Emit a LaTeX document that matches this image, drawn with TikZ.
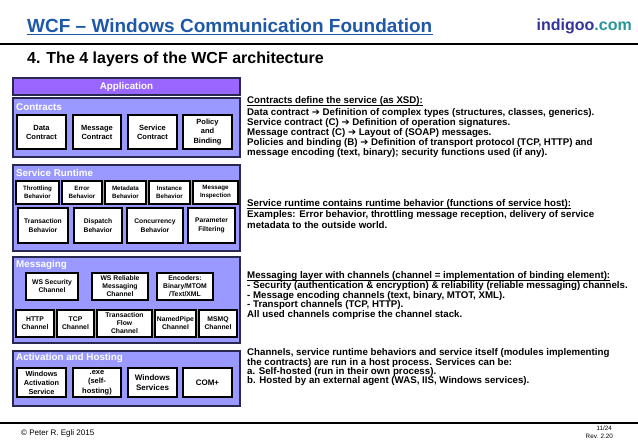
\documentclass[tikz,border=0pt]{standalone}
\usepackage{fontspec}
\setmainfont{Liberation Sans}
\newfontfamily\arrowfont{DejaVu Sans}
\definecolor{titleblue}{RGB}{30,88,168}
\definecolor{indigoc}{RGB}{51,51,153}
\definecolor{comc}{RGB}{40,150,150}
\definecolor{appc}{RGB}{153,102,255}
\definecolor{layerc}{RGB}{153,153,255}
\definecolor{layerborder}{RGB}{40,40,80}
\newcommand\arr{{\arrowfont\bfseries ➔}}
\newcommand\myul[1]{\setbox0\hbox{#1}\rlap{\rule[-1.8pt]{\wd0}{0.65pt}}\box0}
\newcommand\ibox[7][]{\node[inner,#1, minimum width={#4-#2}, minimum height={#5-#3}] (#6) at ({(#2+#4)/2},{(#3+#5)/2}) {#7};}
\newcommand\lbox[6]{\node[#6, minimum width={#4-#2}, minimum height={#5-#3}] (#1) at ({(#2+#4)/2},{(#3+#5)/2}) {};}
\tikzset{
  layer/.style={draw=layerborder, line width=1.3pt, fill=layerc, inner sep=0pt},
  appbar/.style={draw=layerborder, line width=1.3pt, fill=appc, inner sep=0pt},
  inner/.style={draw=black, line width=1.2pt, fill=white, align=center, inner sep=0pt, font=\bfseries\fontsize{6.8}{8}\selectfont},
  fc/.style={font=\bfseries\fontsize{7.5}{9}\selectfont},
  fs1/.style={font=\bfseries\fontsize{6.2}{8}\selectfont},
  fs2/.style={font=\bfseries\fontsize{6.7}{8.5}\selectfont},
  lbl/.style={text=white, anchor=west, inner sep=0pt, font=\bfseries\fontsize{9.8}{11}\selectfont},
  desc/.style={anchor=north west, inner sep=0pt, align=left, font=\bfseries\fontsize{9.7}{10}\selectfont},
  foot/.style={inner sep=0pt, font=\fontsize{8}{9}\selectfont},
  rule/.style={line width=1.3pt, black}
}
\begin{document}
\begin{tikzpicture}[x=1pt,y=-1pt]
\useasboundingbox (0,0) rectangle (638,442);
% header
\node[anchor=base west, inner sep=0pt, text=titleblue, font=\bfseries\fontsize{19}{22}\selectfont] (title) at (27,32) {WCF – Windows Communication Foundation};
\draw[titleblue, line width=1.3pt] ([yshift=-2.8pt]title.base west) -- ([yshift=-2.8pt]title.base east);
\node[anchor=base east, inner sep=0pt, font=\bfseries\fontsize{16}{18}\selectfont] (logo) at (632,30) {\textcolor{indigoc}{indigoo}\textcolor{comc}{.com}};
\coordinate (tl) at (0,44); \coordinate (tr) at (638,44);
\draw[rule] (tl) -- (tr);
\node[anchor=base west, inner sep=0pt, font=\bfseries\fontsize{16}{19}\selectfont] (sub) at (27,63.7) {4. The 4 layers of the WCF architecture};
% layers
\lbox{app}{13}{78}{240}{95}{appbar}
\node[text=white, inner sep=0pt, font=\bfseries\fontsize{9.8}{11}\selectfont] (applbl) at (app.center) {Application};
\lbox{con}{13}{98}{240}{157}{layer}
\node[lbl] (conlbl) at (16,107.5) {Contracts};
\lbox{sr}{13}{165}{240}{251}{layer}
\node[lbl] (srlbl) at (16,173) {Service Runtime};
\lbox{msg}{13}{257}{240}{343}{layer}
\node[lbl] (msglbl) at (16,265) {Messaging};
\lbox{hst}{13}{351}{240}{406}{layer}
\node[lbl] (hstlbl) at (16,357.5) {Activation and Hosting};
% contracts
\ibox[fc]{17}{115}{66}{149}{dc}{Data\\Contract}
\ibox[fc]{73}{115}{121}{149}{mc}{Message\\Contract}
\ibox[fc]{128}{115}{177}{149}{sc}{Service\\Contract}
\ibox[fc,font=\bfseries\fontsize{7.5}{9.3}\selectfont]{183}{115}{232}{149}{pb}{Policy\\and\\Binding}
% service runtime
\ibox[fs1]{16}{181}{59}{204}{thr}{Throttling\\Behavior}
\ibox[fs1]{62}{181}{102}{204}{err}{Error\\Behavior}
\ibox[fs1]{105}{181}{146}{204}{meta}{Metadata\\Behavior}
\ibox[fs1]{149}{181}{190}{204}{inst}{Instance\\Behavior}
\ibox[fs1]{193}{181}{238}{204}{minsp}{Message\\Inspection}
\ibox[fs2]{18}{208}{68}{243}{trb}{Transaction\\Behavior}
\ibox[fs2]{74}{208}{122}{243}{disp}{Dispatch\\Behavior}
\ibox[fs2]{127}{208}{183}{243}{conc}{Concurrency\\Behavior}
\ibox[fs2]{188}{208}{235}{243}{par}{Parameter\\Filtering}
% messaging
\ibox{26}{273}{78}{300}{wss}{WS Security\\Channel}
\ibox{92}{273}{148}{300}{wsr}{WS Reliable\\Messaging\\Channel}
\ibox{157}{273}{213}{300}{enc}{Encoders:\\Binary/MTOM\\/Text/XML}
\ibox{16}{310}{54}{337}{http}{HTTP\\Channel}
\ibox{57}{310}{94}{337}{tcp}{TCP\\Channel}
\ibox{97}{310}{152}{337}{tfl}{Transaction\\Flow\\Channel}
\ibox{155}{310}{196}{337}{np}{NamedPipe\\Channel}
\ibox{199}{310}{237}{337}{msmq}{MSMQ\\Channel}
% hosting
\ibox[fc,font=\bfseries\fontsize{7.3}{9}\selectfont]{17}{368}{66}{397}{was}{Windows\\Activation\\Service}
\ibox[fc,font=\bfseries\fontsize{7.5}{9.5}\selectfont]{73}{368}{121}{397}{exe}{.exe\\(self-\\hosting)}
\ibox[fc,font=\bfseries\fontsize{8}{10}\selectfont]{128}{368}{177}{397}{wsv}{Windows\\Services}
\ibox[fc,font=\bfseries\fontsize{8}{10}\selectfont]{183}{368}{232}{397}{com}{COM+}
% descriptions
\node[desc] (d1) at (247,96.4) {\myul{Contracts define the service (as XSD):}\\[2pt]
Data contract \arr{} Definition of complex types (structures, classes, generics).\\
Service contract (C) \arr{} Definition of operation signatures.\\
Message contract (C) \arr{} Layout of (SOAP) messages.\\
Policies and binding (B) \arr{} Definition of transport protocol (TCP, HTTP) and\\
message encoding (text, binary); security functions used (if any).};
\node[desc, font=\bfseries\fontsize{9.7}{11}\selectfont] (d2) at (247,199.4) {\myul{Service runtime contains runtime behavior (functions of service host):}\\
Examples: Error behavior, throttling message reception, delivery of service\\
metadata to the outside world.};
\node[desc, font=\bfseries\fontsize{9.7}{9.7}\selectfont] (d3) at (247,271.4) {\myul{Messaging layer with channels (channel = implementation of binding element):}\\
- Security (authentication \& encryption) \& reliability (reliable messaging) channels.\\
- Message encoding channels (text, binary, MTOT, XML).\\
- Transport channels (TCP, HTTP).\\
All used channels comprise the channel stack.};
\node[desc, font=\bfseries\fontsize{9.7}{9.4}\selectfont] (d4) at (247,348.4) {Channels, service runtime behaviors and service itself (modules implementing\\
the contracts) are run in a host process. Services can be:\\
a. Self-hosted (run in their own process).\\
b. Hosted by an external agent (WAS, IIS, Windows services).};
% footer
\coordinate (bl) at (0,423); \coordinate (br) at (638,423);
\draw[rule] (bl) -- (br);
\node[foot, anchor=west] (copy) at (21,433) {© Peter R. Egli 2015};
\node[foot, anchor=east, font=\fontsize{6.3}{7}\selectfont] (page) at (612,428) {11/24};
\node[foot, anchor=east, font=\fontsize{6.3}{7}\selectfont] (rev) at (613,436) {Rev. 2.20};
\end{tikzpicture}
\end{document}
